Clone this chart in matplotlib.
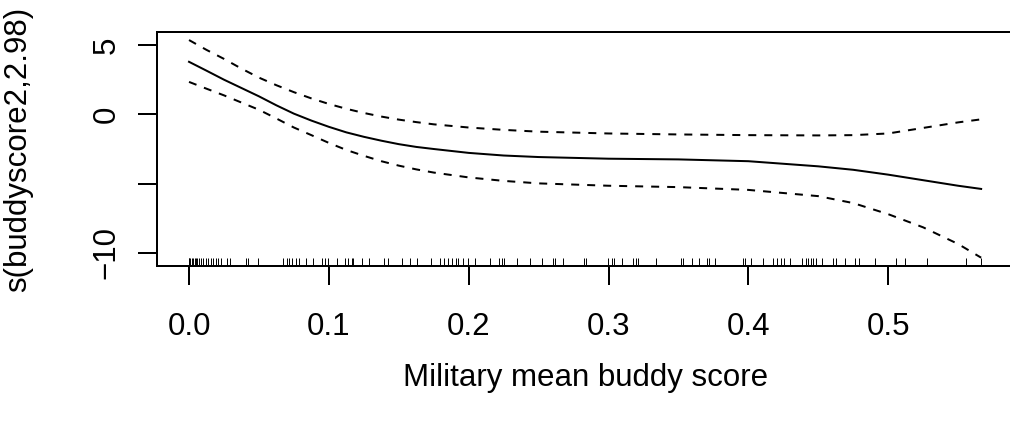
import matplotlib
matplotlib.use('Agg')
import matplotlib.pyplot as plt
import matplotlib.transforms as mtransforms
import numpy as np

# curva ajustada y bandas de confianza
x_grid = [0.0, 0.0125, 0.025, 0.0375, 0.05, 0.0625, 0.075, 0.0875, 0.1, 0.1125,
          0.125, 0.1375, 0.15, 0.1625, 0.175, 0.2, 0.225, 0.25,
          0.3, 0.35, 0.4, 0.45, 0.475, 0.5, 0.525, 0.55, 0.5665]
ajuste = [3.79, 3.15, 2.5, 1.9, 1.3, 0.65, 0.05, -0.45, -0.9, -1.3,
          -1.62, -1.9, -2.15, -2.35, -2.5, -2.78, -2.97, -3.08,
          -3.2, -3.25, -3.38, -3.75, -4.0, -4.35, -4.75, -5.15, -5.38]
superior = [5.36, 4.65, 4.0, 3.3, 2.65, 2.1, 1.6, 1.15, 0.75, 0.4,
            0.1, -0.16, -0.38, -0.56, -0.72, -0.95, -1.12, -1.25,
            -1.38, -1.45, -1.5, -1.52, -1.5, -1.38, -0.98, -0.58, -0.36]
inferior = [2.34, 1.85, 1.37, 0.85, 0.33, -0.3, -0.95, -1.5, -2.06, -2.57,
            -2.99, -3.38, -3.7, -3.97, -4.2, -4.55, -4.8, -4.98,
            -5.15, -5.25, -5.45, -5.9, -6.4, -7.2, -8.15, -9.35, -10.34]

# rug de observaciones
rug_x = [0.0, 0.0, 0.001, 0.002, 0.003, 0.004, 0.005, 0.006, 0.007,
         0.0086, 0.010, 0.012, 0.0136, 0.0155, 0.0172, 0.0193, 0.0207, 0.0227,
         0.027, 0.0293, 0.0406, 0.042, 0.049, 0.067, 0.070, 0.0715, 0.0735,
         0.0765, 0.079, 0.084, 0.089, 0.095, 0.097,
         0.0996, 0.1057, 0.1116, 0.1135, 0.1164, 0.1175, 0.1235, 0.1288, 0.1397,
         0.1421, 0.1526, 0.158, 0.1629, 0.1731, 0.1795, 0.1826, 0.1855, 0.1879,
         0.1908, 0.1926, 0.1962,
         0.1998, 0.2046, 0.2153, 0.2217, 0.2241, 0.2255, 0.2344, 0.2439, 0.2527,
         0.2606, 0.2618, 0.2677, 0.2828, 0.2838,
         0.2999, 0.3024, 0.304, 0.3095, 0.3178, 0.3195, 0.3214, 0.3338, 0.3519,
         0.3536, 0.3596, 0.3648, 0.3703, 0.372, 0.3763, 0.3965, 0.3977,
         0.402, 0.4108, 0.418, 0.4204, 0.4232, 0.4258, 0.4299, 0.4383, 0.4411,
         0.443, 0.4447, 0.4466, 0.4483, 0.453, 0.4609, 0.4626, 0.4692, 0.4764,
         0.4788, 0.4907, 0.5057, 0.5122, 0.5277, 0.5558, 0.5665]

x_ticks = [0.0, 0.1, 0.2, 0.3, 0.4, 0.5]
x_tick_labels = ['0.0', '0.1', '0.2', '0.3', '0.4', '0.5']
y_ticks = [-10, -5, 0, 5]
y_tick_labels = ['\u221210', '', '0', '5']

plt.rcParams['font.family'] = ['Liberation Sans', 'DejaVu Sans']
plt.rcParams['font.size'] = 22.5

fig = plt.figure(figsize=(10.1, 4.23), dpi=100)
ax = fig.add_axes([157 / 1010, 1 - 266 / 423, 857 / 1010, 234 / 423])

ax.plot(x_grid, ajuste, color='black', lw=1.44)
ax.plot(x_grid, superior, color='black', lw=1.44, dashes=(4, 4))
ax.plot(x_grid, inferior, color='black', lw=1.44, dashes=(4, 4))

trans = mtransforms.blended_transform_factory(ax.transData, ax.transAxes)
ax.vlines(rug_x, 0, 0.033, transform=trans, color='black', lw=0.7)

ax.set_xlim(-0.0229, 0.590)
ax.set_ylim(-10.94, 5.94)

ax.set_xticks(x_ticks)
ax.set_xticklabels(x_tick_labels)
ax.set_yticks(y_ticks)
ax.set_yticklabels(y_tick_labels, rotation=90, va='center')

ax.tick_params(axis='both', length=13.5, width=1.44, direction='out')
ax.tick_params(axis='x', pad=19.5)
ax.tick_params(axis='y', pad=12)
for s in ax.spines.values():
    s.set_linewidth(1.44)

ax.set_xlabel('Military mean buddy score')
ax.xaxis.label.set_va('center')
ax.xaxis.set_label_coords(0.5, -(378 - 266) / 234)
ax.set_ylabel('s(buddyscore2,2.98)')
ax.yaxis.label.set_va('center')
ax.yaxis.set_label_coords(-(157 - 18) / 857, 0.5)

fig.savefig('out.png', dpi=100)
